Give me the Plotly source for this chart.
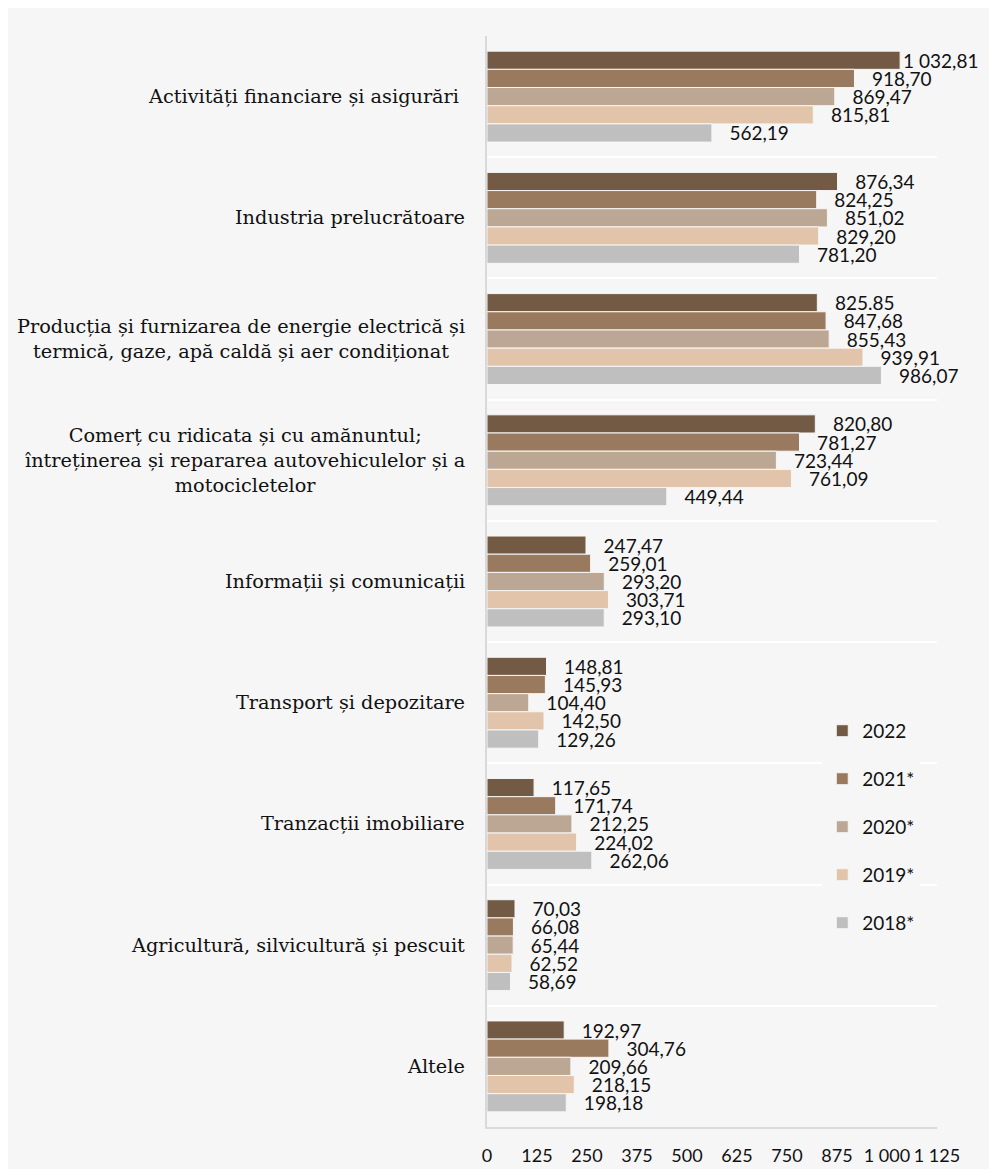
import plotly.graph_objects as go

categories = [
    "Activități financiare și asigurări ",
    "Industria prelucrătoare",
    "Producția și furnizarea de energie electrică și<br>termică, gaze, apă caldă și aer condiționat",
    "Comerț cu ridicata și cu amănuntul;<br>întreținerea și repararea autovehiculelor și a<br>motocicletelor",
    "Informații și comunicații",
    "Transport și depozitare",
    "Tranzacții imobiliare",
    "Agricultură, silvicultură și pescuit",
    "Altele",
]
series_names = ["2022", "2021*", "2020*", "2019*", "2018*"]
v2022 = [1032.81, 876.34, 825.85, 820.80, 247.47, 148.81, 117.65, 70.03, 192.97]
v2021 = [918.70, 824.25, 847.68, 781.27, 259.01, 145.93, 171.74, 66.08, 304.76]
v2020 = [869.47, 851.02, 855.43, 723.44, 293.20, 104.40, 212.25, 65.44, 209.66]
v2019 = [815.81, 829.20, 939.91, 761.09, 303.71, 142.50, 224.02, 62.52, 218.15]
v2018 = [562.19, 781.20, 986.07, 449.44, 293.10, 129.26, 262.06, 58.69, 198.18]
colors = ["#735a45", "#9a7a5e", "#bba793", "#e2c4aa", "#bfbfbf"]
tick_values = [0, 125, 250, 375, 500, 625, 750, 875, 1000, 1125]


def fmt(v):
    s = f"{v:,.2f}"
    return s.replace(",", " ").replace(".", ",")


all_values = [v2022, v2021, v2020, v2019, v2018]
labels = [["\u00a0\u00a0\u00a0" + fmt(v) for v in vals] for vals in all_values]
labels[0][2] = "\u00a0\u00a0\u00a0825.85"  # as printed in the source
labels[0][0] = fmt(v2022[0])  # label pulled in to fit the chart area

fig = go.Figure()
for name, vals, col, txt in zip(series_names, all_values, colors, labels):
    fig.add_trace(go.Bar(
        y=categories, x=vals, name=name, orientation="h",
        marker=dict(color=col, line=dict(color="#f6f6f6", width=1)),
        text=txt, textposition="outside", constraintext="none",
        textfont=dict(family="Lato, sans-serif", size=19, color="#111111"),
        cliponaxis=False, legendgroup=name,
    ))

for c in categories:
    fig.add_annotation(
        x=0, xref="paper", y=c, yref="y", text=c, showarrow=False,
        xanchor="right", align="center", xshift=-20,
        font=dict(family="DejaVu Serif, serif", size=19.3, color="#111111"),
    )

fig.update_layout(
    width=981, height=1161,
    margin=dict(l=479, r=52, t=28, b=42),
    paper_bgcolor="#f6f6f6", plot_bgcolor="#f6f6f6",
    barmode="group", bargap=0.25, bargroupgap=0,
    separators=", ",
    showlegend=True,
    legend=dict(x=0.745, y=0.3805, xanchor="left", yanchor="top",
                bgcolor="#f6f6f6", traceorder="grouped", tracegroupgap=20.3,
                font=dict(family="Lato, sans-serif", size=19, color="#111111"),
                itemwidth=30),
    xaxis=dict(range=[0, 1125], tickvals=tick_values, tickformat=",",
               tickangle=0, automargin=False,
               showgrid=False, showline=True, linecolor="#d9d9d9", linewidth=1.5,
               ticks="", zeroline=False, ticklabelstandoff=12,
               tickfont=dict(family="Lato, sans-serif", size=18, color="#111111")),
    yaxis=dict(autorange="reversed", showticklabels=False, tickson="boundaries",
               showgrid=True, gridcolor="white", gridwidth=2, automargin=False,
               showline=True, linecolor="#d9d9d9", linewidth=2, ticks=""),
)

fig.write_html(
    "out.html",
    post_script="document.body.style.marginBottom='0px';"
                "document.body.style.marginRight='0px';",
)
